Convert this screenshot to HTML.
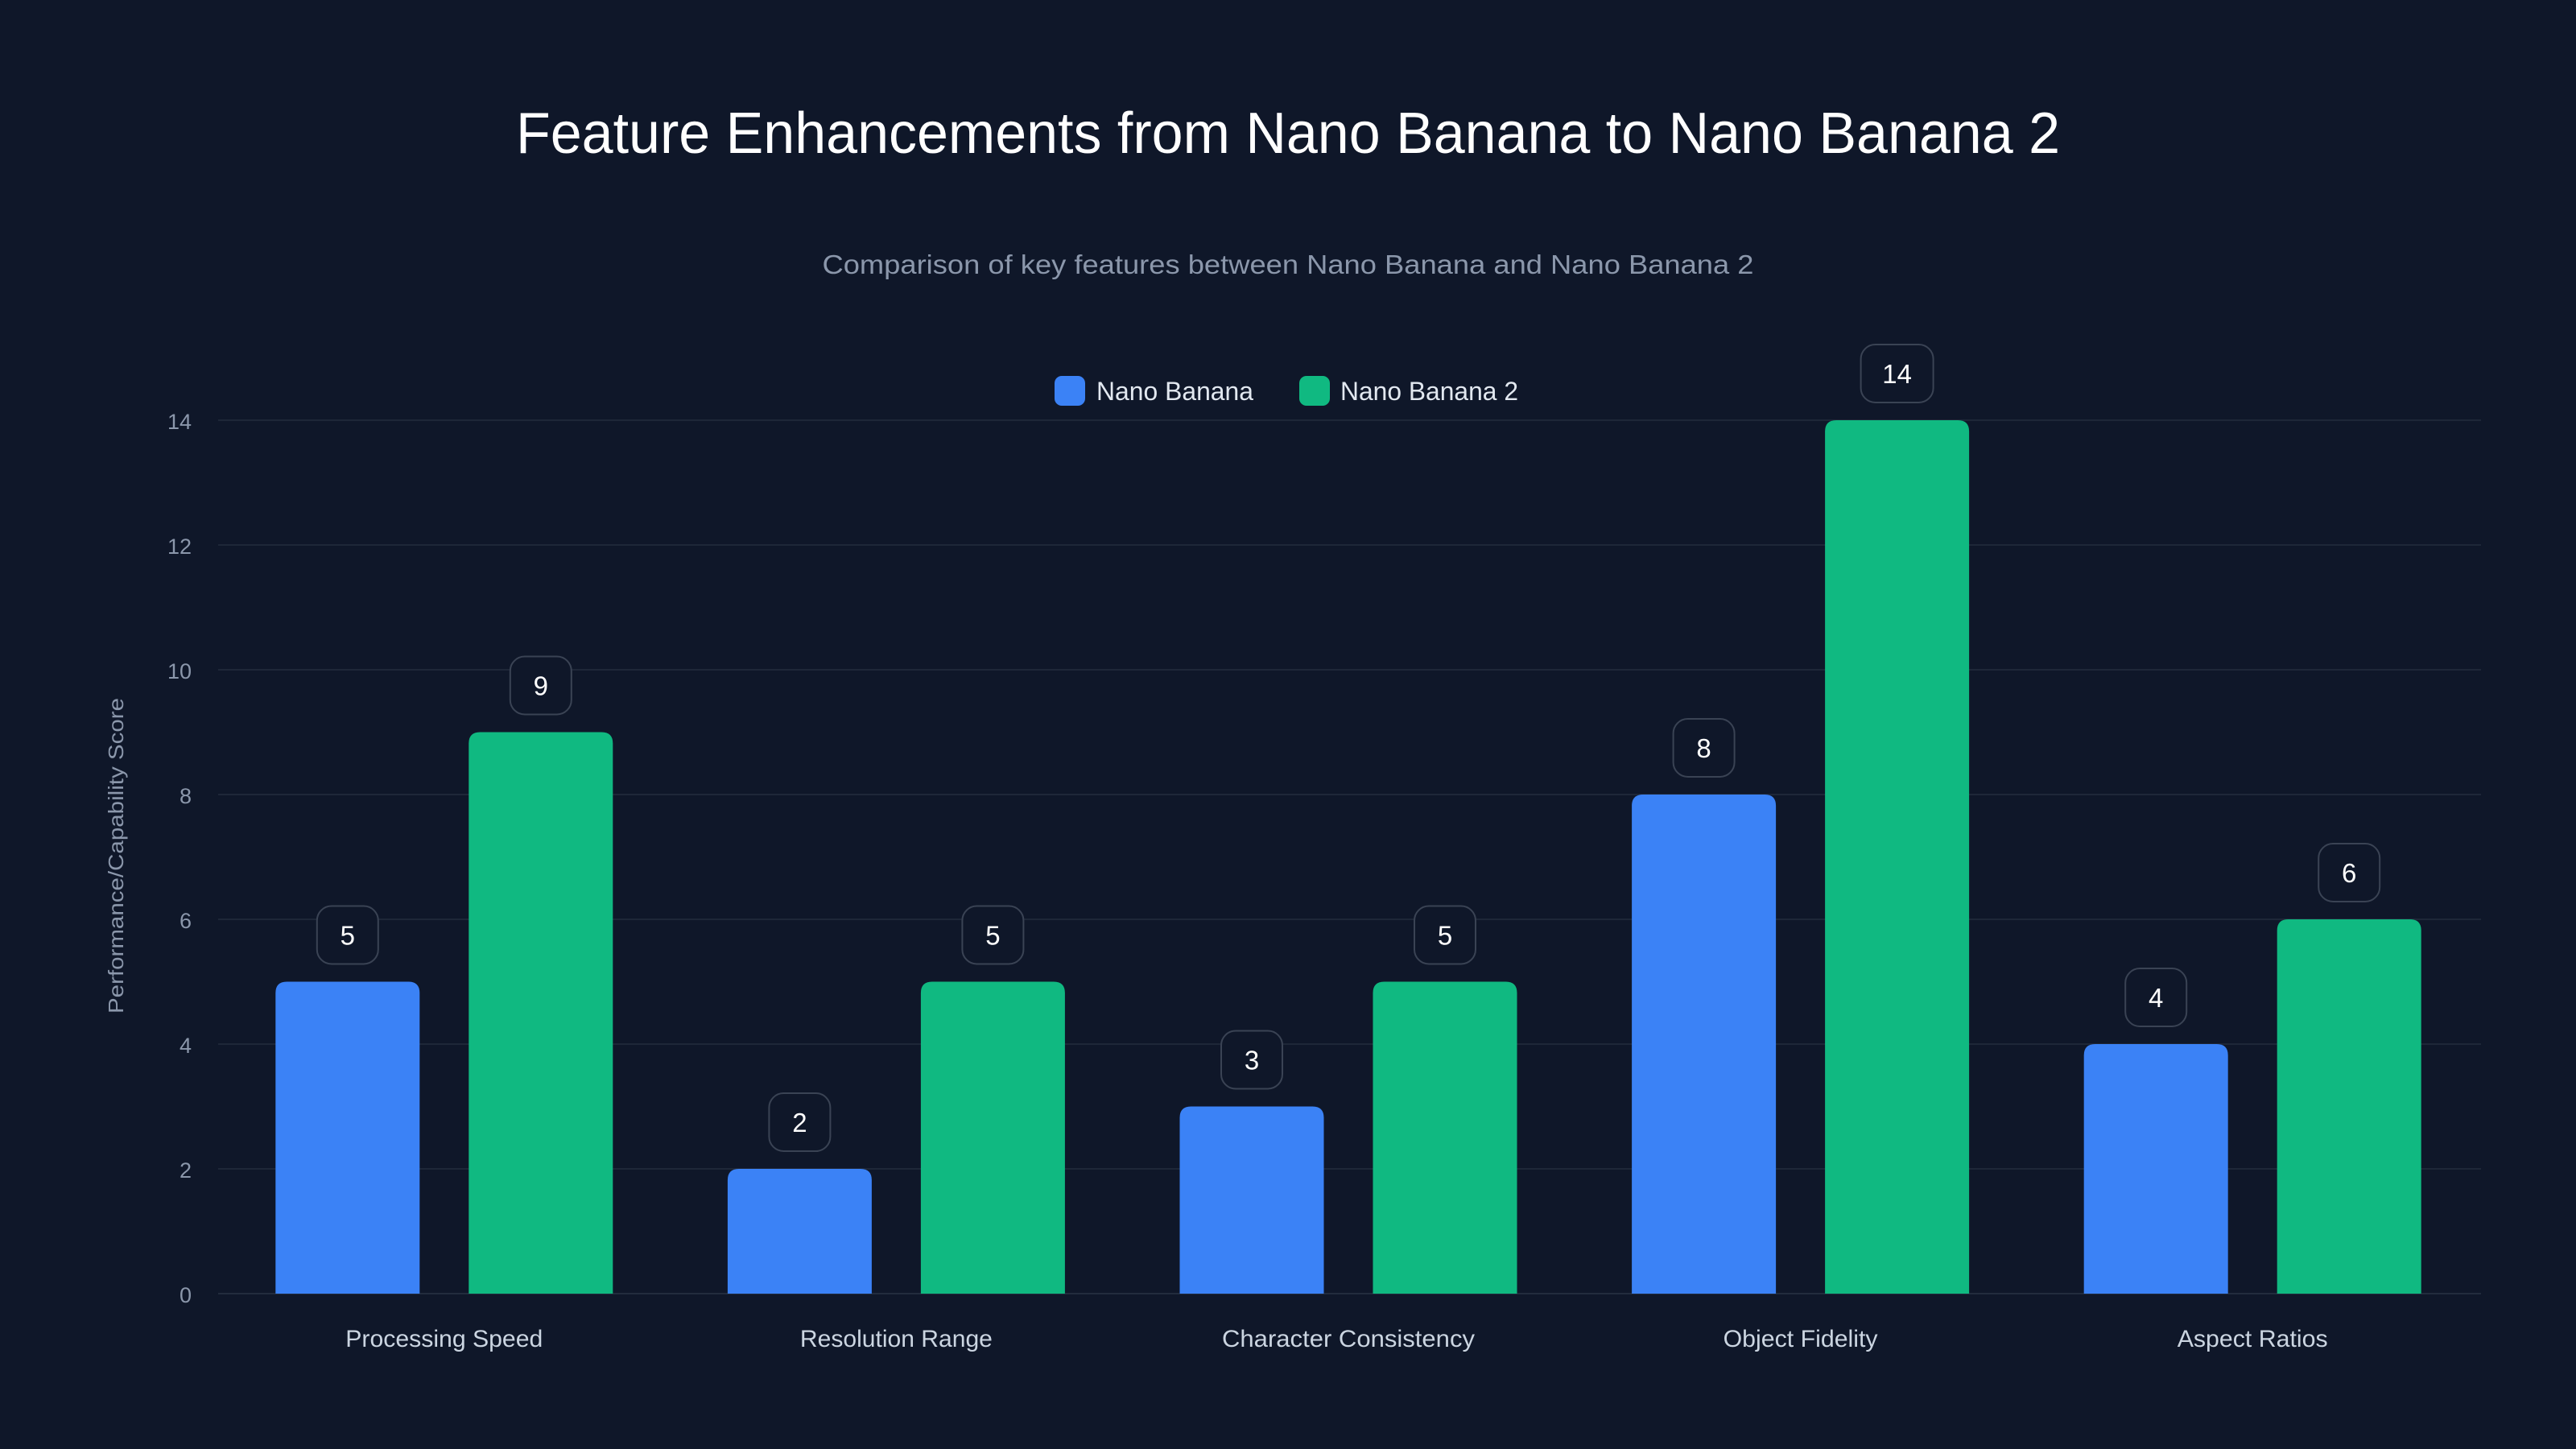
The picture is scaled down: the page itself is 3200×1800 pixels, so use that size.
<!DOCTYPE html>
<html><head><meta charset="utf-8">
<style>
html,body{margin:0;padding:0;background:#0f172a;}
svg{display:block;font-family:"Liberation Sans",sans-serif;}
</style></head>
<body>
<svg id="chart" width="3200" height="1800" viewBox="0 0 3200 1800" xmlns="http://www.w3.org/2000/svg">
<rect width="3200" height="1800" fill="#0f1729"/>
<text x="1600" y="190" text-anchor="middle" font-size="72" fill="#ffffff" textLength="1918" lengthAdjust="spacingAndGlyphs">Feature Enhancements from Nano Banana to Nano Banana 2</text>
<text x="1600" y="340" text-anchor="middle" font-size="33" fill="#8b97ab" textLength="1157" lengthAdjust="spacingAndGlyphs">Comparison of key features between Nano Banana and Nano Banana 2</text>
<g>
  <g>
    <rect x="1310" y="467" width="38" height="37" rx="9" fill="#3b82f6"/>
    <text x="1362" y="497" font-size="32" fill="#e2e8f0" textLength="195" lengthAdjust="spacingAndGlyphs">Nano Banana</text>
  </g>
  <g>
    <rect x="1614" y="467" width="38" height="37" rx="9" fill="#10b981"/>
    <text x="1665" y="497" font-size="32" fill="#e2e8f0" textLength="221" lengthAdjust="spacingAndGlyphs">Nano Banana 2</text>
  </g>
</g>
<text transform="translate(153,1063) rotate(-90)" text-anchor="middle" font-size="26" fill="#8b97ab" textLength="392" lengthAdjust="spacingAndGlyphs">Performance/Capability Score</text>
<g id="grid"></g>
<g id="bars"></g>
<g id="xlabels"></g>
</svg>
<script>
const categories = ["Processing Speed","Resolution Range","Character Consistency","Object Fidelity","Aspect Ratios"];
const seriesNano = [5,2,3,8,4];
const seriesNano2 = [9,5,5,14,6];
const yTicks = [0,2,4,6,8,10,12,14];
const catLabelWidths = [245,239,314,192,187];

const NS="http://www.w3.org/2000/svg";
const left=271,right=3079,y0=1607,yMax=14,yTop=522;
const y=v=>y0-(y0-yTop)*v/yMax;
const band=(right-left)/categories.length;
const xc=i=>left+band*(i+0.5);
const barW=179,off=120;
function mk(t,a,p){const e=document.createElementNS(NS,t);for(const k in a)e.setAttribute(k,a[k]);p.appendChild(e);return e;}
const grid=document.getElementById('grid');
yTicks.forEach(t=>{
  const l=mk('line',{x1:left,x2:3082,y1:y(t),y2:y(t),stroke:t===0?'#222c3d':'#1e2738','stroke-width':2},grid);
  
  
  const tx=mk('text',{x:238,y:y(t)+11,'text-anchor':'end','font-size':27,fill:'#8b97ab'},grid);
  tx.textContent=t;
  
  
});
const bars=document.getElementById('bars');
function bar(cx,v,color,name){
  const top=y(v),r=14;
  const p=mk('path',{d:`M${cx-barW/2},${y0} V${top+r} Q${cx-barW/2},${top} ${cx-barW/2+r},${top} H${cx+barW/2-r} Q${cx+barW/2},${top} ${cx+barW/2},${top+r} V${y0} Z`,fill:color},bars);
  
  
  const g=mk('g',{},bars);
  
  
  const bw=v>=10?90:76;
  mk('rect',{x:cx-bw/2,y:top-94,width:bw,height:72,rx:18,fill:'#0f1729',stroke:'#3a4354','stroke-width':2},g);
  const t=mk('text',{x:cx,y:top-46,'text-anchor':'middle','font-size':33,fill:'#ffffff'},g);
  t.textContent=v;
}
categories.forEach((c,i)=>{
  bar(xc(i)-off,seriesNano[i],'#3b82f6','bar-nano-banana-'+i);
  bar(xc(i)+off,seriesNano2[i],'#10b981','bar-nano-banana-2-'+i);
  const t=mk('text',{x:xc(i),y:1673,'text-anchor':'middle','font-size':30,fill:'#cbd5e1',textLength:catLabelWidths[i],lengthAdjust:'spacingAndGlyphs'},document.getElementById('xlabels'));
  t.textContent=c;
  
  
});
</script>
</body></html>
